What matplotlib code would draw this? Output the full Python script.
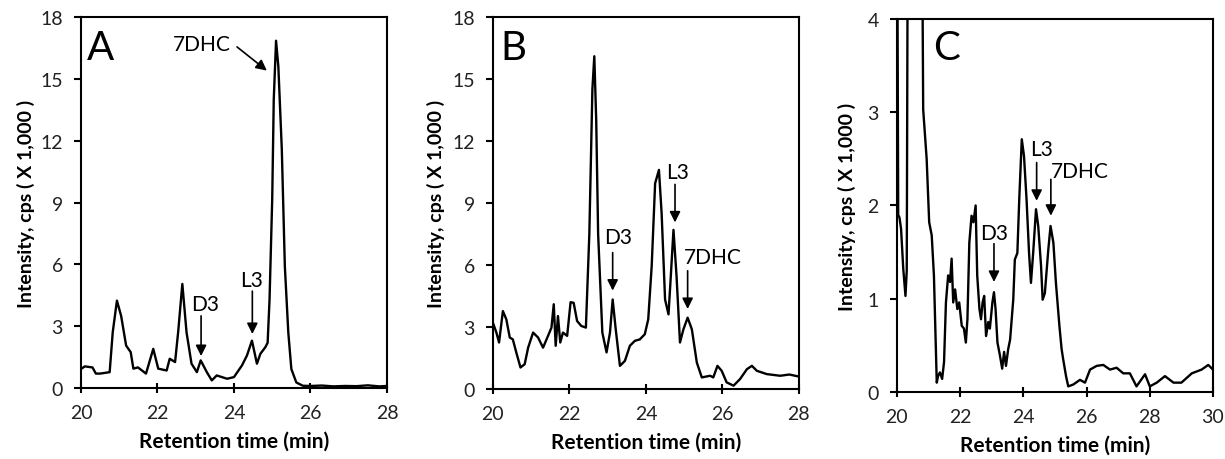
import matplotlib
matplotlib.use("Agg")
import matplotlib.pyplot as plt

plt.rcParams['font.family'] = ['Lato', 'DejaVu Sans']

# retention time (min) / intensity (x 1,000 cps)
a_t = [20.0, 20.1, 20.3, 20.39, 20.5, 20.75, 20.83, 20.94, 21.05, 21.18, 21.3, 21.37,
       21.49, 21.7, 21.89, 22.02, 22.24, 22.32, 22.46, 22.54, 22.65, 22.76, 22.89,
       23.03, 23.13, 23.29, 23.42, 23.55, 23.82, 24.0, 24.21, 24.34, 24.47, 24.6,
       24.69, 24.82, 24.88, 24.93, 25.0, 25.04, 25.1, 25.16, 25.25, 25.33, 25.42,
       25.5, 25.63, 25.8, 26.0, 26.3, 26.6, 26.9, 27.2, 27.5, 27.8, 28.0]
a_y = [0.92, 1.05, 1.0, 0.7, 0.7, 0.77, 2.7, 4.24, 3.5, 2.06, 1.74, 0.94,
       1.0, 0.7, 1.9, 0.94, 0.85, 1.42, 1.26, 2.7, 5.05, 2.7, 1.18,
       0.77, 1.34, 0.77, 0.37, 0.61, 0.45, 0.53, 1.1, 1.58, 2.3, 1.18,
       1.66, 1.98, 2.2, 4.3, 9.2, 14.0, 16.85, 15.6, 11.6, 5.9, 2.7,
       0.92, 0.27, 0.11, 0.1, 0.12, 0.08, 0.1, 0.09, 0.13, 0.08, 0.1]

b_t = [20.0, 20.09, 20.16, 20.26, 20.35, 20.44, 20.52, 20.61, 20.72, 20.83, 20.92,
       21.05, 21.18, 21.31, 21.44, 21.53, 21.59, 21.64, 21.7, 21.76, 21.83, 21.94,
       22.03, 22.11, 22.2, 22.31, 22.43, 22.52, 22.6, 22.65, 22.7, 22.75, 22.86,
       22.97, 23.06, 23.13, 23.21, 23.32, 23.45, 23.58, 23.71, 23.84, 23.97, 24.06,
       24.15, 24.24, 24.34, 24.41, 24.5, 24.59, 24.65, 24.72, 24.8, 24.89, 24.98,
       25.09, 25.2, 25.33, 25.46, 25.68, 25.76, 25.87, 25.98, 26.11, 26.29, 26.46,
       26.64, 26.77, 26.9, 27.16, 27.51, 27.75, 28.0]
b_y = [3.2, 2.73, 2.25, 3.77, 3.37, 2.49, 2.4, 1.77, 1.04, 1.2, 2.0,
       2.73, 2.49, 2.0, 2.57, 2.97, 4.1, 2.09, 3.53, 2.25, 2.73, 2.57,
       4.2, 4.17, 3.29, 3.05, 2.97, 7.5, 14.5, 16.1, 13.0, 7.5, 2.73,
       1.77, 2.73, 4.33, 2.89, 1.12, 1.36, 2.09, 2.33, 2.4, 2.65, 3.37,
       5.94, 9.95, 10.6, 8.5, 4.33, 3.61, 5.46, 7.7, 5.46, 2.25, 2.89,
       3.45, 2.89, 1.28, 0.56, 0.64, 0.56, 1.12, 0.88, 0.32, 0.16, 0.48,
       0.96, 1.12, 0.88, 0.72, 0.64, 0.7, 0.6]

c_t = [20.0, 20.04, 20.08, 20.13, 20.2, 20.27, 20.31, 20.35, 20.6, 20.78, 20.83,
       20.94, 21.02, 21.1, 21.17, 21.26, 21.3, 21.36, 21.43, 21.49, 21.55, 21.62,
       21.68, 21.73, 21.78, 21.84, 21.91, 21.97, 22.05, 22.12, 22.18, 22.23, 22.29,
       22.36, 22.42, 22.49, 22.54, 22.61, 22.66, 22.71, 22.76, 22.82, 22.89, 22.94,
       23.02, 23.07, 23.12, 23.18, 23.26, 23.33, 23.39, 23.45, 23.52, 23.58, 23.68,
       23.73, 23.81, 23.87, 23.95, 24.02, 24.1, 24.18, 24.24, 24.31, 24.4, 24.47,
       24.56, 24.61, 24.68, 24.79, 24.86, 24.95, 25.03, 25.14, 25.21, 25.26, 25.35,
       25.42, 25.58, 25.79, 25.95, 26.11, 26.32, 26.53, 26.74, 26.95, 27.16, 27.37,
       27.58, 27.85, 28.0, 28.22, 28.48, 28.75, 29.0, 29.33, 29.64, 29.85, 30.0]
c_y = [6.0, 1.9, 1.87, 1.75, 1.32, 1.03, 1.3, 6.0, 8.0, 6.0, 3.03,
       2.5, 1.82, 1.68, 1.25, 0.1, 0.17, 0.21, 0.14, 0.32, 0.96, 1.25,
       1.18, 1.43, 0.96, 1.1, 0.89, 0.96, 0.71, 0.68, 0.53, 0.78, 1.6,
       1.89, 1.82, 2.0, 1.25, 0.89, 0.78, 0.96, 1.03, 0.6, 0.75, 0.68,
       0.96, 1.07, 0.89, 0.53, 0.39, 0.25, 0.43, 0.28, 0.46, 0.56, 0.99,
       1.42, 1.49, 2.07, 2.71, 2.53, 2.07, 1.49, 1.17, 1.49, 1.96, 1.78,
       1.35, 0.99, 1.06, 1.53, 1.78, 1.6, 1.17, 0.71, 0.46, 0.35, 0.17,
       0.06, 0.08, 0.13, 0.1, 0.24, 0.28, 0.29, 0.24, 0.26, 0.2, 0.2,
       0.06, 0.19, 0.06, 0.1, 0.17, 0.1, 0.1, 0.2, 0.24, 0.29, 0.24]

panel_names = ['A', 'B', 'C']
x_limits = [(20, 28), (20, 28), (20, 30)]
y_limits = [(0, 18), (0, 18), (0, 4)]
y_ticks = [[0, 3, 6, 9, 12, 15, 18], [0, 3, 6, 9, 12, 15, 18], [0, 1, 2, 3, 4]]
x_ticks = [[20, 22, 24, 26, 28], [20, 22, 24, 26, 28], [20, 22, 24, 26, 28, 30]]

# peak labels: (text, text position, arrow start, arrow tip)
peak_labels = [
    [('7DHC', (23.16, 16.7), (24.08, 16.55), (24.86, 15.4)),
     ('D3', (23.24, 4.1), (23.14, 3.5), (23.14, 1.55)),
     ('L3', (24.46, 5.25), (24.48, 4.7), (24.48, 2.62))],
    [('D3', (23.28, 7.35), (23.13, 6.6), (23.13, 4.76)),
     ('L3', (24.82, 10.5), (24.76, 9.9), (24.76, 8.06)),
     ('7DHC', (25.76, 6.4), (25.09, 5.72), (25.09, 3.87))],
    [('D3', (23.07, 1.71), (23.07, 1.59), (23.07, 1.18)),
     ('L3', (24.58, 2.61), (24.42, 2.46), (24.42, 2.05)),
     ('7DHC', (25.79, 2.37), (24.87, 2.28), (24.87, 1.89))],
]

traces = [(a_t, a_y), (b_t, b_y), (c_t, c_y)]
axes_rects = [[0.0661, 0.1543, 0.2498, 0.8065],
              [0.4024, 0.1522, 0.2498, 0.8087],
              [0.7322, 0.1457, 0.2580, 0.8109]]
letter_pos = [(0.02, 0.887), (0.023, 0.887), (0.114, 0.893)]
ylabel_pad = [4, 5, 8]

fig = plt.figure(figsize=(12.25, 4.6), dpi=100)

for i in range(3):
    ax = fig.add_axes(axes_rects[i])
    t, y = traces[i]
    ax.plot(t, y, color='k', lw=1.7)
    ax.set_xlim(x_limits[i])
    ax.set_ylim(y_limits[i])
    ax.set_xticks(x_ticks[i])
    ax.set_yticks(y_ticks[i])
    for s in ax.spines.values():
        s.set_linewidth(1.5)
    ax.tick_params(axis='x', direction='inout', length=7, width=1.5,
                   labelsize=14, pad=8, colors='k', labelcolor='#222222')
    ax.tick_params(axis='y', direction='out', length=5, width=1.5,
                   labelsize=14, pad=8, colors='k', labelcolor='#222222')
    ax.set_xlabel('Retention time (min)', fontsize=15, fontweight='bold', labelpad=7)
    ax.set_ylabel('Intensity, cps ( X 1,000 )', fontsize=14, fontweight='bold',
                  labelpad=ylabel_pad[i])
    lx, ly = letter_pos[i]
    ax.text(lx, ly, panel_names[i], transform=ax.transAxes, fontsize=29,
            va='baseline', ha='left')
    for txt, tpos, start, tip in peak_labels[i]:
        ax.text(tpos[0], tpos[1], txt, fontsize=15, ha='center', va='center')
        ax.annotate('', xy=tip, xytext=start,
                    arrowprops=dict(arrowstyle='-|>', color='k', lw=1.2,
                                    mutation_scale=16, shrinkA=0, shrinkB=0))

fig.savefig('out.png', dpi=100)
